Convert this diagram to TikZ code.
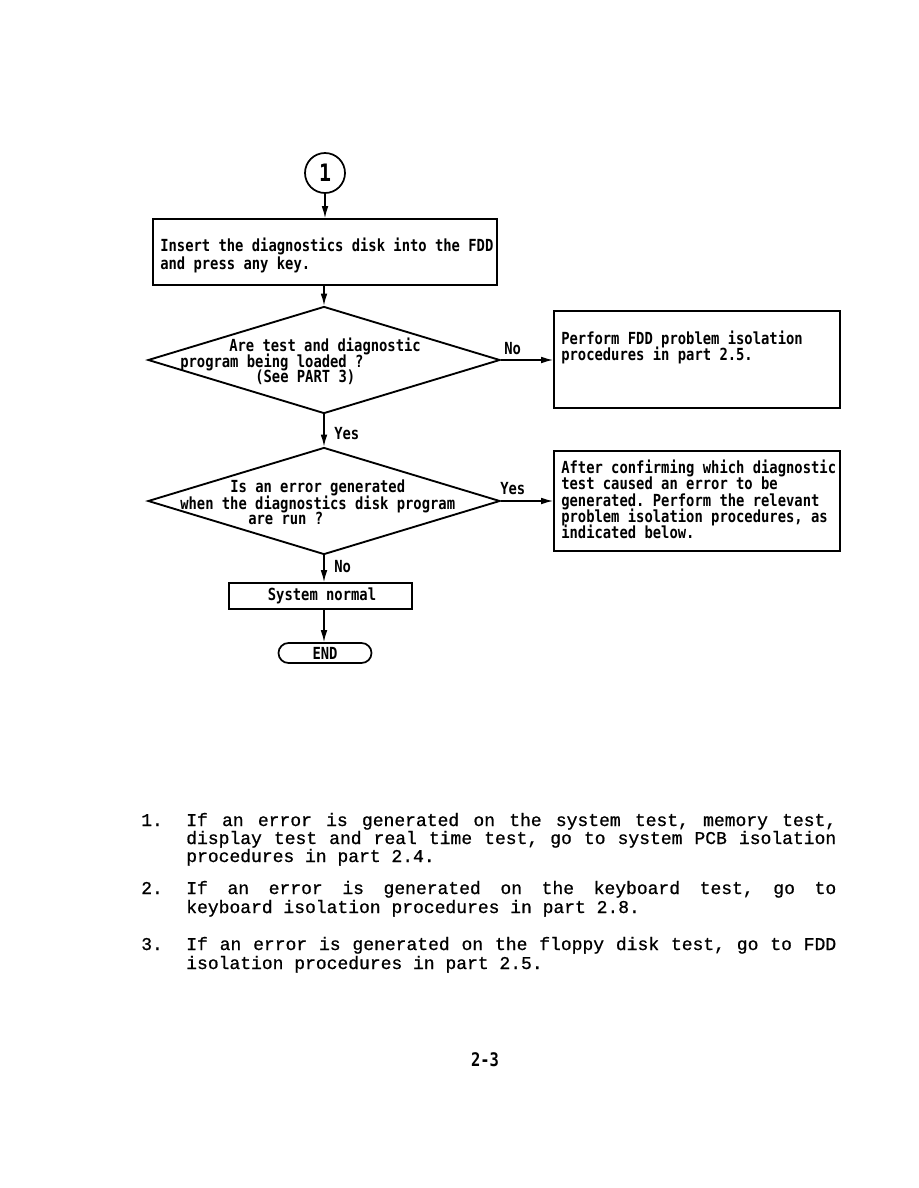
\documentclass[tikz,border=0pt]{standalone}
\usepackage{fontspec}
\usetikzlibrary{arrows.meta,shapes.geometric,shapes.misc}
\newfontfamily\fcfont{DejaVu Sans Mono}[FakeStretch=0.83]
\newfontfamily\bodyfont{Liberation Mono}[FakeBold=0.8]
\newcommand\bodysetup{\bodyfont\fontsize{13.5}{16}\selectfont\frenchspacing\fontdimen3\font=6pt\relax\fontdimen4\font=1pt\relax}
\tikzset{
  fc/.style={font=\fcfont\bfseries\fontsize{12.5}{14}\selectfont\frenchspacing},
  ft/.style={fc, inner sep=0, anchor=west, text height=8.5pt, text depth=2.3pt},
  lbl/.style={ft},
  boxn/.style={draw, line width=1.3pt, inner sep=0},
  dia/.style={draw, diamond, line width=1.4pt, inner sep=0, minimum width=264pt, minimum height=80.25pt},
  arr/.style={line width=1pt, -{Latex[length=9pt,width=5pt]}},
  bt/.style={font=\bodysetup, inner sep=0, anchor=base west},
}
\begin{document}
\begin{tikzpicture}[x=0.75pt,y=-0.75pt]
\fill[white] (0,0) rectangle (918,1188);
\path[use as bounding box] (0,0) rectangle (918,1188);

% connector circle
\node[draw, circle, line width=1.3pt, minimum size=30pt, inner sep=0, font=\fcfont\bfseries\fontsize{18}{18}\selectfont] (c1) at (325,173) {1};

% box 1
\node[boxn, minimum width=258pt, minimum height=49.5pt] (b1) at (325,252) {};
\node[ft] (b1a) at (160,247) {Insert the diagnostics disk into the FDD};
\node[ft] (b1b) at (160,265) {and press any key.};

% diamond 1
\node[dia] (d1) at (324,360) {};
\node[ft] (d1a) at (229,347) {Are test and diagnostic};
\node[ft] (d1b) at (180,363) {program being loaded ?};
\node[ft] (d1c) at (255,378) {(See PART 3)};

% box 2
\node[boxn, minimum width=214.5pt, minimum height=72.75pt] (b2) at (697,359.5) {};
\node[ft] (b2a) at (561,340) {Perform FDD problem isolation};
\node[ft] (b2b) at (561,356) {procedures in part 2.5.};

% diamond 2
\node[dia] (d2) at (324,501) {};
\node[ft] (d2a) at (230,488) {Is an error generated};
\node[ft] (d2b) at (180,505) {when the diagnostics disk program};
\node[ft] (d2c) at (248,520) {are run ?};

% box 3
\node[boxn, minimum width=214.5pt, minimum height=75pt] (b3) at (697,501) {};
\node[ft] (b3a) at (561,469) {After confirming which diagnostic};
\node[ft] (b3b) at (561,485) {test caused an error to be};
\node[ft] (b3c) at (561,502) {generated. Perform the relevant};
\node[ft] (b3d) at (561,518) {problem isolation procedures, as};
\node[ft] (b3e) at (561,534) {indicated below.};

% system normal
\node[boxn, minimum width=137.25pt, minimum height=19.5pt] (sys) at (320.5,596) {};
\node[fc, inner sep=0] (syst) at (322,596) {System normal};

% end
\node[draw, rounded rectangle, line width=1.3pt, minimum width=69.75pt, minimum height=15pt, inner sep=0, fc] (end) at (325,653) {END};

% connectors
\draw[arr] (c1.south) -- (c1.south |- b1.north);
\draw[arr] (d1.north |- b1.south) -- (d1.north);
\draw[arr] (d1.east) -- (d1.east -| b2.west);
\node[lbl] (no1) at (504,350) {No};
\draw[arr] (d1.south) -- (d2.north);
\node[lbl] (yes1) at (334,435) {Yes};
\draw[arr] (d2.east) -- (d2.east -| b3.west);
\node[lbl] (yes2) at (500,490) {Yes};
\draw[arr] (d2.south) -- (d2.south |- sys.north);
\node[lbl] (no2) at (334,568) {No};
\draw[arr] (d2.south |- sys.south) -- (d2.south |- end.north);

% notes
\node[bt] (n1) at (141,826) {1.};
\node[bt] (n1a) at (186,826) {\makebox[487.5pt][s]{If an error is generated on the system test, memory test,}};
\node[bt] (n1b) at (186,844) {\makebox[487.5pt][s]{display test and real time test, go to system PCB isolation}};
\node[bt] (n1c) at (186,862) {procedures in part 2.4.};

\node[bt] (n2) at (141,894) {2.};
\node[bt] (n2a) at (186,894) {\makebox[487.5pt][s]{If an error is generated on the keyboard test, go to}};
\node[bt] (n2b) at (186,913) {keyboard isolation procedures in part 2.8.};

\node[bt] (n3) at (141,950) {3.};
\node[bt] (n3a) at (186,950) {\makebox[487.5pt][s]{If an error is generated on the floppy disk test, go to FDD}};
\node[bt] (n3b) at (186,969) {isolation procedures in part 2.5.};

% page number
\node[fc, inner sep=0, font=\fcfont\bfseries\fontsize{14}{14}\selectfont] (pg) at (485,1060) {2-3};
\end{tikzpicture}
\end{document}
